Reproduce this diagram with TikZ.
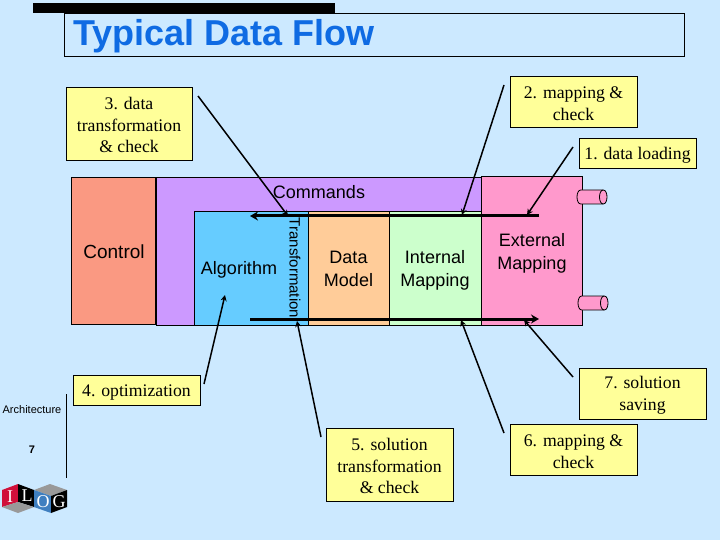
\documentclass[tikz,border=0pt]{standalone}
\usepackage{fontspec}
\setmainfont{Liberation Serif}
\setsansfont{Liberation Sans}
\usetikzlibrary{arrows.meta}
\definecolor{slidebg}{HTML}{CCE9FF}
\definecolor{titleblue}{HTML}{0F6BE3}
\definecolor{notefill}{HTML}{FFFF99}
\definecolor{ctrlfill}{HTML}{FA9982}
\definecolor{cmdfill}{HTML}{CC99FF}
\definecolor{algofill}{HTML}{66CCFF}
\definecolor{datafill}{HTML}{FFCC99}
\definecolor{intfill}{HTML}{CCFFCC}
\definecolor{extfill}{HTML}{FF99CC}
\definecolor{logored}{HTML}{D0103A}
\definecolor{logoblue}{HTML}{3F7FC0}
\definecolor{logogray}{HTML}{999999}
\newcommand{\notegap}{\rule{0pt}{16pt}}
\tikzset{
  note/.style={rectangle, draw, thick, fill=notefill, inner sep=0pt, align=center,
               minimum width=127pt, font=\fontsize{17.7}{21.5}\selectfont},
  layer/.style={rectangle, draw, inner sep=0pt, align=center},
  lab/.style={inner sep=0pt, align=center, font=\sffamily\fontsize{18}{23}\selectfont},
  plug/.pic={
    \filldraw[thick, fill=extfill] (-11.25,-7) -- (11.25,-7) .. controls (16.25,-7) and (16.25,7) .. (11.25,7)
      -- (-11.25,7) .. controls (-16.25,7) and (-16.25,-7) .. (-11.25,-7) -- cycle;
    \draw[thick] (11.25,-7) .. controls (6.25,-7) and (6.25,7) .. (11.25,7);
  },
  logotxt/.style={inner sep=0pt, text=white, font=\fontsize{18}{18}\selectfont},
  ed/.style={-{Stealth[length=6pt,width=6pt]}, line width=1.5pt},
  bus/.style={line width=3pt, -{Stealth[length=8pt,width=9pt]}}
}
\begin{document}
\begin{tikzpicture}[x=1pt,y=-1pt]
\useasboundingbox (0,0) rectangle (720,540);
\fill[slidebg] (0,0) rectangle (720,540);
% title
\node[rectangle, fill=black, inner sep=0pt, minimum width=302pt, minimum height=10pt] (bar) at (184,8) {};
\node[rectangle, draw, thick, inner sep=0pt, minimum width=620pt, minimum height=43pt] (titlebox) at (374.5,34.5) {};
\node[anchor=west, inner sep=0pt, text=titleblue, font=\sffamily\bfseries\fontsize{36}{36}\selectfont] (title) at (73,36) {Typical Data Flow};
% layers
\node[layer, fill=cmdfill, minimum width=326pt, minimum height=148pt] (cmd) at (319,251) {};
\node[lab] (cmdtxt) at (319,192) {Commands};
\node[layer, fill=ctrlfill, minimum width=84pt, minimum height=147pt] (ctrl) at (113.5,250.5) {};
\node[lab, font=\sffamily\fontsize{19}{23}\selectfont] (ctrltxt) at (114,252) {Control};
\node[layer, fill=algofill, minimum width=114pt, minimum height=114pt] (algo) at (251,268) {};
\node[lab] (algotxt) at (239,270) {Algorithm};
\node[layer, fill=datafill, minimum width=81pt, minimum height=114pt] (data) at (348.5,268) {};
\node[lab] (datatxt) at (348.5,269) {Data\\Model};
\node[layer, fill=intfill, minimum width=92pt, minimum height=114pt] (int) at (435,268) {};
\node[lab] (inttxt) at (435,270) {Internal\\Mapping};
\node[layer, fill=extfill, minimum width=101pt, minimum height=149pt] (ext) at (532,251) {};
\node[lab] (exttxt) at (532,253) {External\\Mapping};
\node[inner sep=0pt, rotate=-90, font=\sffamily\fontsize{15}{15}\selectfont] (trans) at (295,268) {Transformation};
\pic at (592,197) {plug};
\pic at (593,303) {plug};
% buses
\coordinate (busAl) at (250,216);
\coordinate (busAr) at (539,216);
\coordinate (busBl) at (250,319);
\coordinate (busBr) at (539,319);
\draw[bus] (busAr) -- (busAl);
\draw[bus] (busBl) -- (busBr);
% notes
\node[note, minimum height=73pt, minimum width=126pt] (n3) at (129,123.5) {\notegap 3. data\\transformation\\\& check};
\node[note, minimum height=51pt] (n2) at (573.5,101.5) {\notegap 2. mapping \&\\check};
\node[note, minimum height=30pt, minimum width=117pt] (n1) at (637.5,153) {\notegap 1. data loading};
\node[note, minimum height=30pt] (n4) at (136.5,390) {\notegap 4. optimization};
\node[note, minimum height=73pt] (n5) at (389.5,464.5) {\notegap 5. solution\\transformation\\\& check};
\node[note, minimum height=51pt] (n6) at (573.5,449.5) {\notegap 6. mapping \&\\check};
\node[note, minimum height=51pt] (n7) at (642.5,393.5) {\notegap 7. solution\\saving};
% callouts
\coordinate (s3) at (198,96);   \coordinate (t3) at (288,216);
\coordinate (s2) at (504,85);   \coordinate (t2) at (462,215);
\coordinate (s1) at (573,147);  \coordinate (t1) at (527,215);
\coordinate (s4) at (204,384);  \coordinate (t4) at (225,295);
\coordinate (s5) at (321,437);  \coordinate (t5) at (297,321);
\coordinate (s6) at (504,433);  \coordinate (t6) at (461,320);
\coordinate (s7) at (573,377);  \coordinate (t7) at (524,320);
\draw[ed] (s3) -- (t3);
\draw[ed] (s2) -- (t2);
\draw[ed] (s1) -- (t1);
\draw[ed] (s4) -- (t4);
\draw[ed] (s5) -- (t5);
\draw[ed] (s6) -- (t6);
\draw[ed] (s7) -- (t7);
% footer
\node[inner sep=0pt, font=\sffamily\fontsize{11}{11}\selectfont] (arch) at (32,410) {Architecture};
\node[inner sep=0pt, font=\sffamily\bfseries\fontsize{11}{11}\selectfont] (page) at (32,450) {7};
\coordinate (ruleA) at (66,394);
\coordinate (ruleB) at (66,478);
\draw (ruleA) -- (ruleB);
% logo
\fill[logored] (2,490) -- (18,484) -- (18,502) -- (2,507) -- cycle;
\fill[black] (18,484) -- (34,490) -- (34,507) -- (18,502) -- cycle;
\fill[logogray] (2,507) -- (18,502) -- (34,507) -- (18,513) -- cycle;
\fill[logogray] (34,490) -- (50,484) -- (67,490) -- (51,496) -- cycle;
\fill[logoblue] (34,490) -- (51,496) -- (51,513) -- (34,507) -- cycle;
\fill[black] (51,496) -- (67,490) -- (67,507) -- (51,513) -- cycle;
\node[logotxt] (logoI) at (10,497) {I};
\node[logotxt] (logoL) at (27,496) {L};
\node[logotxt] (logoO) at (43,502) {O};
\node[logotxt] (logoG) at (59,502) {G};
\end{tikzpicture}
\end{document}
